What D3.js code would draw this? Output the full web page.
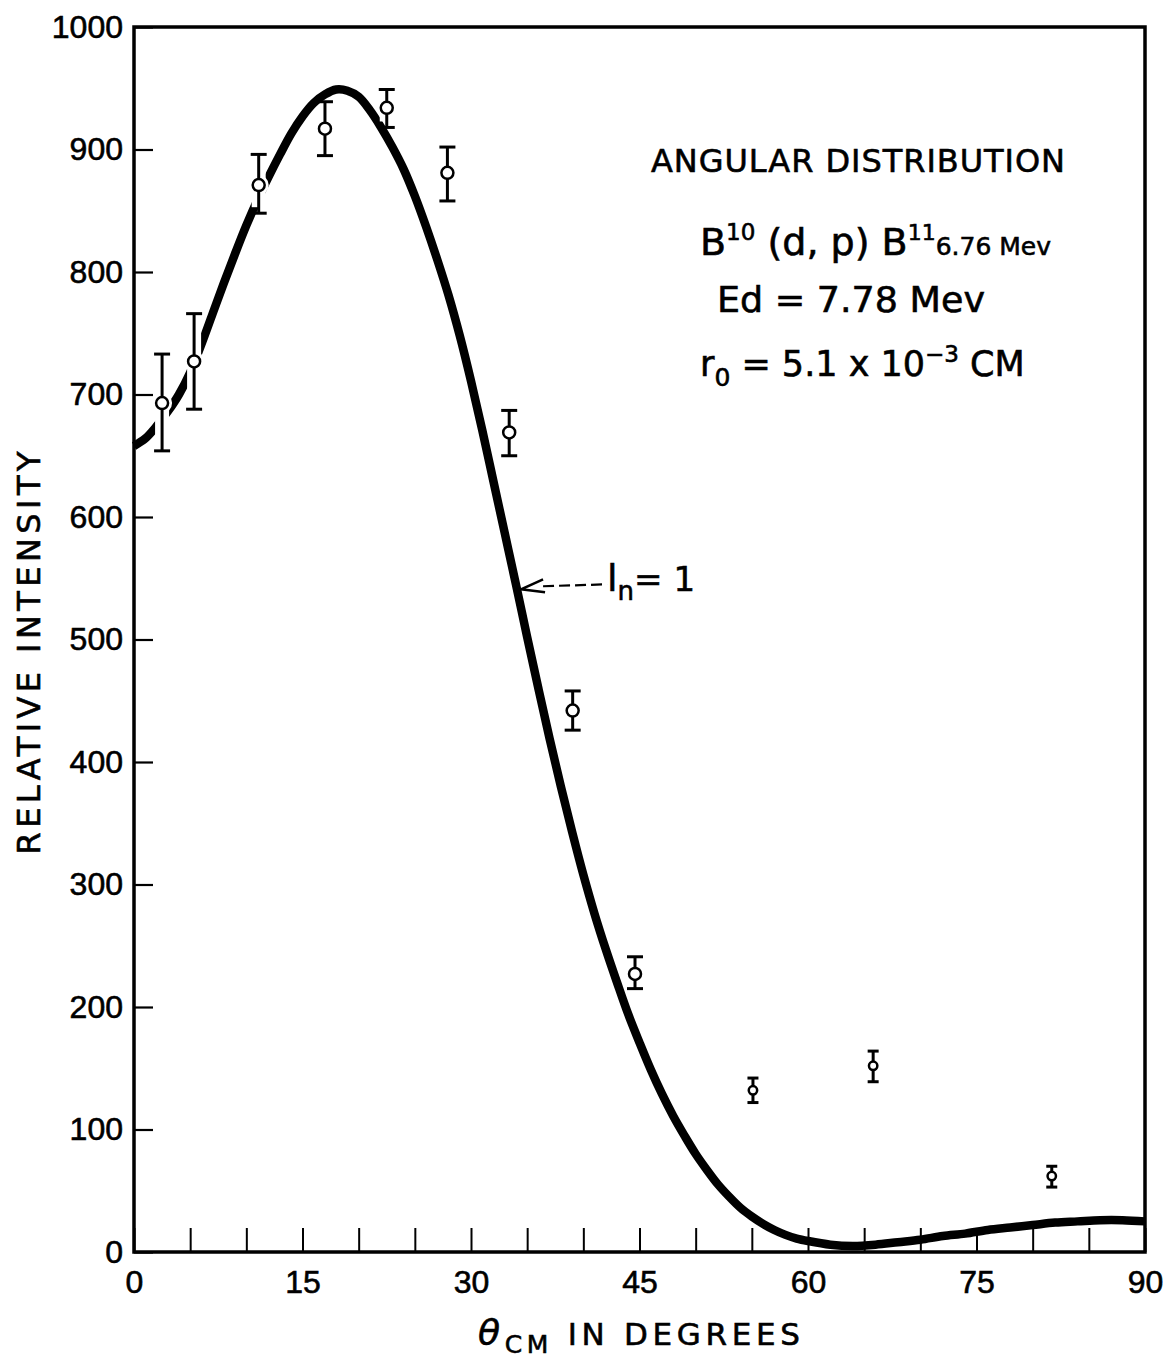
<!DOCTYPE html>
<html>
<head>
<meta charset="utf-8">
<script src="https://cdn.jsdelivr.net/npm/d3@7"></script>
<style>
  body { margin: 0; background: #fff; }
  svg { display: block; font-family: "DejaVu Sans", sans-serif; }
  svg text { stroke: #000; stroke-width: 0.6px; fill: #000; }
</style>
</head>
<body>
<script>
// measured points (angle in degrees, relative intensity, error bar low / high)
var pointAngle = [2.5, 5.35, 11.1, 17.0, 22.5, 27.9, 33.4, 39.05, 44.6, 55.1, 65.8, 81.7];
var pointValue = [693, 727, 871, 917, 934, 881, 669, 442, 227, 132, 152, 62];
var pointLow   = [654, 688, 848, 895, 918, 858, 650, 426, 215, 122, 139, 53];
var pointHigh  = [733, 766, 896, 939, 949, 902, 687, 458, 241, 142, 164, 70];

// theoretical l_n = 1 curve
var curveAngle = [0, 1, 2, 3, 4, 5, 6, 7, 8, 9, 10, 11, 12, 13, 14, 15, 16, 17, 18, 19, 20,
                  21, 22, 23, 24, 25, 26, 27, 28, 29, 30, 31, 32, 33, 34, 35, 36, 37, 38, 39, 40,
                  41, 42, 43, 44, 45, 46, 47, 48, 49, 50, 51, 52, 53, 54, 55, 56, 57, 58, 59, 60,
                  62, 64, 66, 68, 70, 72, 74, 76, 78, 80, 82, 84, 86, 88, 90];
var curveValue = [658, 664, 674, 686, 700, 718, 741, 766, 791, 815, 838, 859, 878, 896, 913, 927, 938, 945, 949, 948, 943,
                  932, 918, 902, 884, 862, 837, 810, 781, 748, 711, 671, 629, 587, 545, 502, 460, 419, 380, 343, 308,
                  276, 247, 220, 194, 171, 149, 129, 111, 95, 80, 67, 55, 45, 36, 29, 23, 18, 14, 11, 9,
                  6, 5, 6, 8, 10, 13, 15, 18, 20, 22, 24, 25, 26, 26, 25];

var yTicks = [0, 100, 200, 300, 400, 500, 600, 700, 800, 900, 1000];
var xTicks = [0, 5, 10, 15, 20, 25, 30, 35, 40, 45, 50, 55, 60, 65, 70, 75, 80, 85, 90];
var xLabels = [0, 15, 30, 45, 60, 75, 90];

var points = pointAngle.map(function(a, i) {
    return {x: a, y: pointValue[i], lo: pointLow[i], hi: pointHigh[i]};
});
var curve = curveAngle.map(function(a, i) { return {x: a, y: curveValue[i]}; });

var W = 1173, H = 1362;
var margin = {top: 27, right: 28, bottom: 110, left: 134},
    width = W - margin.left - margin.right,
    height = H - margin.top - margin.bottom;

var svg = d3.select("body").append("svg")
    .attr("width", W)
    .attr("height", H);

var g = svg.append("g")
    .attr("transform", "translate(" + margin.left + "," + margin.top + ")");

var x = d3.scaleLinear().domain([0, 90]).range([0, width]);
var y = d3.scaleLinear().domain([0, 1000]).range([height, 0]);

// y axis, ticks pointing inward
var yAxis = g.append("g")
    .call(d3.axisLeft(y).tickValues(yTicks).tickSizeInner(-19).tickSizeOuter(0).tickPadding(11)
        .tickFormat(d3.format("d")));
yAxis.select(".domain").remove();
yAxis.selectAll("line").attr("stroke", "#000").attr("stroke-width", 2.2);
yAxis.selectAll("text")
    .style("font-size", "32px");

// x axis, minor ticks every 5 degrees, labels every 15
var xAxis = g.append("g")
    .attr("transform", "translate(0," + height + ")")
    .call(d3.axisBottom(x).tickValues(xTicks).tickSizeInner(-24).tickSizeOuter(0).tickPadding(18)
        .tickFormat(function(d) { return xLabels.indexOf(d) >= 0 ? d : ""; }));
xAxis.select(".domain").remove();
xAxis.selectAll("line").attr("stroke", "#000").attr("stroke-width", 2);
xAxis.selectAll("text")
    .style("font-size", "32px");

// frame
g.append("rect")
    .attr("x", 0).attr("y", 0)
    .attr("width", width).attr("height", height)
    .attr("fill", "none")
    .attr("stroke", "#000")
    .attr("stroke-width", 3.5);

// theory curve
var line = d3.line()
    .x(function(d) { return x(d.x); })
    .y(function(d) { return y(d.y); })
    .curve(d3.curveCatmullRom);

g.append("path")
    .datum(curve)
    .attr("d", line)
    .attr("fill", "none")
    .attr("stroke", "#000")
    .attr("stroke-width", 8.5);

// small markers for the wide-angle points
function rad(d) { return d.x > 50 ? 4.2 : 6; }
function cap(d) { return d.x > 50 ? 5.5 : 8; }

var pts = g.selectAll(".pt")
    .data(points)
    .enter().append("g")
    .attr("class", "pt");

// white halo so the curve is broken where the bars cross it
pts.append("line")
    .attr("x1", function(d) { return x(d.x); })
    .attr("x2", function(d) { return x(d.x); })
    .attr("y1", function(d) { return y(d.hi) + 6; })
    .attr("y2", function(d) { return y(d.lo) - 6; })
    .attr("stroke", "#fff")
    .attr("stroke-width", 14);
pts.append("circle")
    .attr("cx", function(d) { return x(d.x); })
    .attr("cy", function(d) { return y(d.y); })
    .attr("r", function(d) { return rad(d) + 4; })
    .attr("fill", "#fff");

pts.append("line")
    .attr("x1", function(d) { return x(d.x); })
    .attr("x2", function(d) { return x(d.x); })
    .attr("y1", function(d) { return y(d.hi); })
    .attr("y2", function(d) { return y(d.lo); })
    .attr("stroke", "#000")
    .attr("stroke-width", 3);
["hi", "lo"].forEach(function(k) {
    pts.append("line")
        .attr("x1", function(d) { return x(d.x) - cap(d); })
        .attr("x2", function(d) { return x(d.x) + cap(d); })
        .attr("y1", function(d) { return y(d[k]); })
        .attr("y2", function(d) { return y(d[k]); })
        .attr("stroke", "#000")
        .attr("stroke-width", 3);
});
pts.append("circle")
    .attr("cx", function(d) { return x(d.x); })
    .attr("cy", function(d) { return y(d.y); })
    .attr("r", rad)
    .attr("fill", "#fff")
    .attr("stroke", "#000")
    .attr("stroke-width", 2.5);

// l_n = 1 label with dashed arrow
var tipX = x(34.1) + 4, tipY = y(541);
g.append("line")
    .attr("x1", tipX + 22).attr("y1", tipY - 3)
    .attr("x2", tipX + 86).attr("y2", tipY - 5)
    .attr("stroke", "#000")
    .attr("stroke-width", 2.2)
    .attr("stroke-dasharray", "11,5");
g.append("path")
    .attr("d", "M" + (tipX + 22) + "," + (tipY - 10) + " L" + tipX + "," + tipY + " L" + (tipX + 24) + "," + (tipY + 3))
    .attr("fill", "none")
    .attr("stroke", "#000")
    .attr("stroke-width", 2.5);
var ln = g.append("text")
    .attr("x", tipX + 86).attr("y", tipY + 2)
    .style("font-size", "34px");
ln.append("tspan").style("font-size", "38px").text("l");
ln.append("tspan").attr("dy", 9).style("font-size", "26px").text("n");
ln.append("tspan").attr("dy", -9).text("= 1");

// title block
svg.append("text")
    .attr("x", 651).attr("y", 172)
    .attr("textLength", 414)
    .attr("lengthAdjust", "spacing")
    .style("font-size", "32px")
    .text("ANGULAR  DISTRIBUTION");

var t2 = svg.append("text")
    .attr("x", 700).attr("y", 255)
    .style("font-size", "38px");
t2.append("tspan").text("B");
t2.append("tspan").attr("dy", -15).style("font-size", "23px").text("10");
t2.append("tspan").attr("dy", 15).text(" (d, p) B");
t2.append("tspan").attr("dy", -15).style("font-size", "22px").text("11");
t2.append("tspan").attr("dy", 15).style("font-size", "25px").text("6.76 Mev");

svg.append("text")
    .attr("x", 717).attr("y", 312)
    .attr("textLength", 268)
    .attr("lengthAdjust", "spacingAndGlyphs")
    .style("font-size", "35px")
    .text("Ed = 7.78 Mev");

var t4 = svg.append("text")
    .attr("x", 700).attr("y", 376)
    .style("font-size", "35px");
t4.append("tspan").text("r");
t4.append("tspan").attr("dy", 10).style("font-size", "25px").text("0");
t4.append("tspan").attr("dy", -10).text(" = 5.1 x 10");
t4.append("tspan").attr("dy", -14).style("font-size", "23px").text("\u22123");
t4.append("tspan").attr("dy", 14).text(" CM");

// axis labels
var xl = svg.append("text")
    .attr("x", 478).attr("y", 1345)
    .attr("textLength", 322)
    .attr("lengthAdjust", "spacing")
    .style("font-size", "31px");
xl.append("tspan").style("font-style", "italic").style("font-size", "36px").text("\u03b8");
xl.append("tspan").attr("dy", 8).style("font-size", "25px").text("CM");
xl.append("tspan").attr("dy", -8).text("  IN  DEGREES");

svg.append("text")
    .attr("transform", "translate(40,653) rotate(-90)")
    .attr("text-anchor", "middle")
    .attr("textLength", 403)
    .attr("lengthAdjust", "spacing")
    .style("font-size", "32px")
    .text("RELATIVE  INTENSITY");
</script>
</body>
</html>
